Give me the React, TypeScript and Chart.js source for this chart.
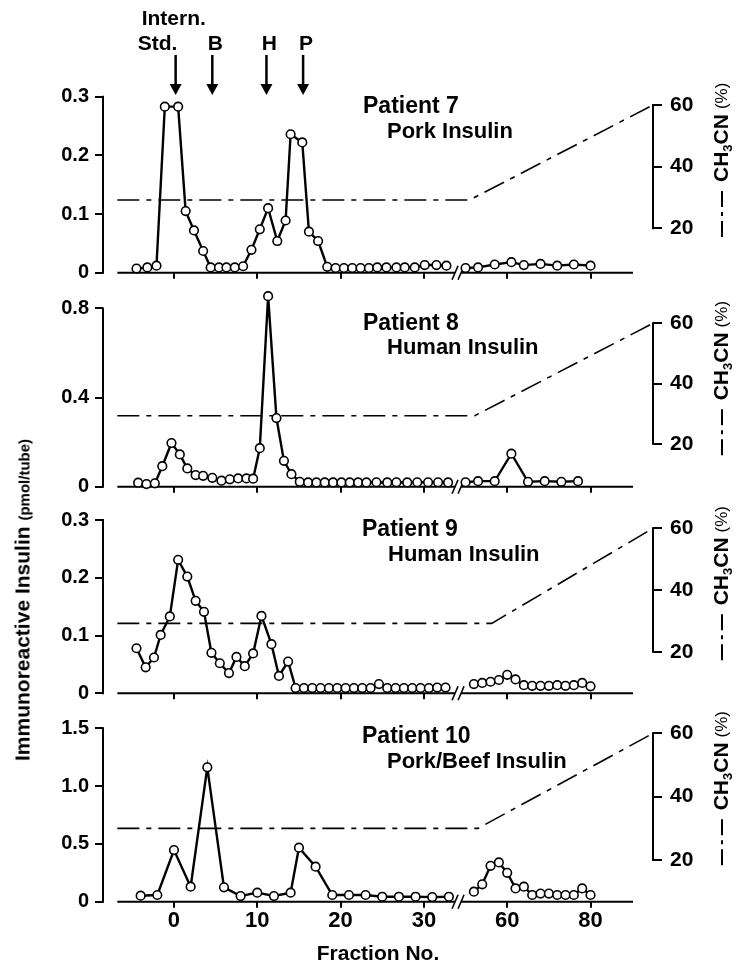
import React, { useEffect, useRef } from 'react';
import { Chart, registerables } from 'chart.js';
Chart.register(...registerables);

const FONT = "'Liberation Sans', Arial, Helvetica, sans-serif";

// ---------- shared axis data ----------
const xTickFractions = [0, 10, 20, 30, 60, 80];
const xTickLabels = ['0', '10', '20', '30', '60', '80'];
const markerFractions = [0.2, 4.6, 11.1, 15.5];
const markerLabels = [['Intern.', 'Std.'], ['B'], ['H'], ['P']];
const ch3cnTicks = [20, 40, 60];

// ---------- Patient 7 ----------
const p7Fractions = [-4.5, -3.2, -2.1, -1.1, 0.5, 1.4, 2.4, 3.5, 4.4, 5.4, 6.3, 7.3, 8.3, 9.3, 10.3, 11.3, 12.4, 13.4, 14.0, 15.4,
  16.2, 17.3, 18.4, 19.4, 20.4, 21.4, 22.4, 23.4, 24.4, 25.5, 26.7, 27.7, 28.9, 30.1, 31.5, 32.7,
  50, 53, 57, 61, 64, 68, 72, 76, 80];
const p7Insulin = [0.007, 0.009, 0.012, 0.283, 0.283, 0.105, 0.072, 0.037, 0.009, 0.009, 0.009, 0.009, 0.011, 0.039, 0.074, 0.11, 0.054, 0.089, 0.236, 0.222,
  0.07, 0.054, 0.01, 0.008, 0.008, 0.008, 0.008, 0.008, 0.009, 0.009, 0.009, 0.009, 0.009, 0.013, 0.013, 0.012,
  0.008, 0.009, 0.014, 0.018, 0.013, 0.015, 0.012, 0.014, 0.012];
const p7GradFractions = [-6.8, 51, 95];
const p7GradCH3CN = [29.2, 29.2, 60];
const p7Ticks = [0, 0.1, 0.2, 0.3];
const p7TickLabels = ['0', '0.1', '0.2', '0.3'];

// ---------- Patient 8 ----------
const p8Fractions = [-4.3, -3.3, -2.3, -1.4, -0.3, 0.7, 1.6, 2.6, 3.5, 4.6, 5.7, 6.7, 7.7, 8.7, 9.5, 10.3, 11.3, 12.3, 13.2, 14.1,
  15.1, 16.1, 17.1, 18.1, 19.1, 20.1, 21.1, 22.1, 23.1, 24.3, 25.6, 26.7, 28.0, 29.2, 30.5, 31.7, 32.9,
  50, 53, 57, 61, 65, 69, 73, 77];
const p8Insulin = [0.018, 0.012, 0.015, 0.092, 0.196, 0.145, 0.082, 0.052, 0.049, 0.04, 0.027, 0.033, 0.037, 0.037, 0.036, 0.173, 0.855, 0.308, 0.116, 0.056,
  0.022, 0.019, 0.019, 0.019, 0.019, 0.019, 0.019, 0.019, 0.019, 0.02, 0.019, 0.02, 0.019, 0.02, 0.02, 0.02, 0.019,
  0.02, 0.025, 0.025, 0.148, 0.022, 0.025, 0.022, 0.025];
const p8GradFractions = [-6.8, 52.2, 95];
const p8GradCH3CN = [29.3, 29.3, 60];
const p8Ticks = [0, 0.4, 0.8];
const p8TickLabels = ['0', '0.4', '0.8'];

// ---------- Patient 9 ----------
const p9Fractions = [-4.5, -3.4, -2.4, -1.6, -0.5, 0.5, 1.6, 2.6, 3.6, 4.5, 5.5, 6.6, 7.5, 8.5, 9.5, 10.5, 11.7, 12.6, 13.7, 14.6,
  15.6, 16.6, 17.6, 18.6, 19.6, 20.6, 21.6, 22.6, 23.6, 24.6, 25.6, 26.6, 27.6, 28.6, 29.6, 30.6, 31.6, 32.6,
  52, 54, 56, 58, 60, 62, 64, 66, 68, 70, 72, 74, 76, 78, 80];
const p9Insulin = [0.078, 0.045, 0.062, 0.101, 0.133, 0.231, 0.202, 0.16, 0.141, 0.07, 0.052, 0.035, 0.063, 0.047, 0.069, 0.134, 0.085, 0.03, 0.055, 0.009,
  0.009, 0.009, 0.009, 0.009, 0.009, 0.009, 0.009, 0.009, 0.009, 0.016, 0.009, 0.009, 0.009, 0.009, 0.009, 0.009, 0.01, 0.01,
  0.016, 0.018, 0.02, 0.023, 0.032, 0.024, 0.014, 0.013, 0.013, 0.013, 0.014, 0.013, 0.014, 0.018, 0.012];
const p9GradFractions = [-6.8, 56.3, 95];
const p9GradCH3CN = [29.2, 29.2, 60];
const p9Ticks = [0, 0.1, 0.2, 0.3];
const p9TickLabels = ['0', '0.1', '0.2', '0.3'];

// ---------- Patient 10 ----------
const p10Fractions = [-4, -2, 0, 2, 4, 6, 8, 10, 12, 14, 15, 17, 19, 21, 23, 25, 27, 29, 31, 33,
  52, 54, 56, 58, 60, 62, 64, 66, 68, 70, 72, 74, 76, 78, 80];
const p10Insulin = [0.052, 0.058, 0.447, 0.13, 1.162, 0.124, 0.049, 0.078, 0.049, 0.078, 0.467, 0.303, 0.058, 0.058, 0.058, 0.043, 0.043, 0.043, 0.04, 0.043,
  0.087, 0.15, 0.31, 0.34, 0.25, 0.115, 0.13, 0.058, 0.07, 0.07, 0.058, 0.058, 0.058, 0.115, 0.058];
const p10GradFractions = [-6.8, 53, 95];
const p10GradCH3CN = [30, 30, 60];
const p10Ticks = [0, 0.5, 1.0, 1.5];
const p10TickLabels = ['0', '0.5', '1.0', '1.5'];

// ---------- axis geometry (broken fraction axis: 60..80 drawn at half scale) ----------
const toPos = (f: number) => (f < 40 ? f : 40 + (f - 60) / 2);
const X_MIN = -8.52;
const X_MAX = 57.5;
const AXIS_START = -6.8;
const AXIS_END = 55.1;
const BREAK_POS = 34.1;

function seriesPoints(fr: number[], vals: number[]) {
  const pts: any[] = [];
  for (let i = 0; i < fr.length; i++) {
    if (i > 0 && fr[i - 1] < 40 && fr[i] >= 40) pts.push({ x: BREAK_POS, y: null });
    pts.push({ x: toPos(fr[i]), y: vals[i] });
  }
  return pts;
}
function gradPoints(fr: number[], vals: number[]) {
  return fr.map((f, i) => ({ x: toPos(f), y: vals[i] }));
}

const panels = [
  { name: 'Patient 7', sub: 'Pork Insulin', fr: p7Fractions, v: p7Insulin, gf: p7GradFractions, gv: p7GradCH3CN, ticks: p7Ticks, tickLabels: p7TickLabels,
    top: 0, height: 303, padTop: 96.7, xH: 30.3, yMax: 0.3, y2: [5.6, 62.69], t1: [363, 113], t2: [387, 138.3], arrows: true, showX: false },
  { name: 'Patient 8', sub: 'Human Insulin', fr: p8Fractions, v: p8Insulin, gf: p8GradFractions, gv: p8GradCH3CN, ticks: p8Ticks, tickLabels: p8TickLabels,
    top: 270, height: 247, padTop: 18.7, xH: 30.3, yMax: 0.88, y2: [5.72, 70.86], t1: [363, 330], t2: [387, 354], arrows: false, showX: false },
  { name: 'Patient 9', sub: 'Human Insulin', fr: p9Fractions, v: p9Insulin, gf: p9GradFractions, gv: p9GradCH3CN, ticks: p9Ticks, tickLabels: p9TickLabels,
    top: 490, height: 234, padTop: 30, xH: 30.7, yMax: 0.3, y2: [6.52, 62.69], t1: [362, 535.7], t2: [388, 560.7], arrows: false, showX: false },
  { name: 'Patient 10', sub: 'Pork/Beef Insulin', fr: p10Fractions, v: p10Insulin, gf: p10GradFractions, gv: p10GradCH3CN, ticks: p10Ticks, tickLabels: p10TickLabels,
    top: 695, height: 278, padTop: 33.3, xH: 71.3, yMax: 1.5, y2: [6.84, 61.58], t1: [362, 743.3], t2: [387, 768.3], arrows: false, showX: true },
];

function drawCH3CN(ctx: CanvasRenderingContext2D, cx: number, y60: number) {
  ctx.save();
  ctx.translate(cx, y60 + 77);
  ctx.rotate(-Math.PI / 2);
  ctx.fillStyle = '#000';
  ctx.strokeStyle = '#000';
  ctx.lineWidth = 2;
  ctx.setLineDash([16, 5, 4, 5]);
  ctx.beginPath();
  ctx.moveTo(-55, 0);
  ctx.lineTo(-9, 0);
  ctx.stroke();
  ctx.setLineDash([]);
  ctx.textBaseline = 'middle';
  ctx.textAlign = 'left';
  let x = 0;
  ctx.font = `bold 21px ${FONT}`;
  ctx.fillText('CH', x, 0);
  x += ctx.measureText('CH').width;
  ctx.font = `bold 13px ${FONT}`;
  ctx.fillText('3', x, 6);
  x += ctx.measureText('3').width;
  ctx.font = `bold 21px ${FONT}`;
  ctx.fillText('CN', x, 0);
  x += ctx.measureText('CN').width + 5;
  ctx.font = `17px ${FONT}`;
  ctx.fillText('(%)', x, 0);
  ctx.restore();
}

function Panel({ cfg }: { cfg: any }) {
  const ref = useRef<HTMLCanvasElement>(null);
  useEffect(() => {
    const decor = {
      id: 'decor',
      beforeDatasetsDraw(chart: any) {
        const { ctx, chartArea } = chart;
        const xs = chart.scales.x;
        const ys = chart.scales.y;
        const y2 = chart.scales.y2;
        const base = ys.getPixelForValue(0);
        const bx = xs.getPixelForValue(BREAK_POS);
        ctx.save();
        ctx.strokeStyle = '#000';
        ctx.lineWidth = 2;
        // broken x axis line
        ctx.beginPath();
        ctx.moveTo(xs.getPixelForValue(AXIS_START), base);
        ctx.lineTo(bx - 3, base);
        ctx.moveTo(bx + 3, base);
        ctx.lineTo(xs.getPixelForValue(AXIS_END), base);
        ctx.stroke();
        ctx.lineWidth = 1.6;
        ctx.beginPath();
        for (const dx of [-3, 3]) {
          ctx.moveTo(bx + dx - 3, base + 7);
          ctx.lineTo(bx + dx + 3, base - 7);
        }
        ctx.stroke();
        // left axis line (0 .. top tick)
        ctx.lineWidth = 2;
        ctx.beginPath();
        ctx.moveTo(chartArea.left, base + 1);
        ctx.lineTo(chartArea.left, ys.getPixelForValue(cfg.ticks[cfg.ticks.length - 1]) - 1);
        ctx.stroke();
        // right axis line (20 .. 60 %)
        ctx.beginPath();
        ctx.moveTo(chartArea.right, y2.getPixelForValue(20) + 1);
        ctx.lineTo(chartArea.right, y2.getPixelForValue(60) - 1);
        ctx.stroke();
        ctx.restore();
      },
      afterDraw(chart: any) {
        const { ctx } = chart;
        const xs = chart.scales.x;
        const y2 = chart.scales.y2;
        ctx.save();
        ctx.fillStyle = '#000';
        ctx.textAlign = 'left';
        ctx.textBaseline = 'alphabetic';
        ctx.font = `bold 23px ${FONT}`;
        ctx.fillText(cfg.name, cfg.t1[0], cfg.t1[1] - cfg.top);
        ctx.font = `bold 22px ${FONT}`;
        ctx.fillText(cfg.sub, cfg.t2[0], cfg.t2[1] - cfg.top);
        drawCH3CN(ctx, 722, y2.getPixelForValue(60));
        if (cfg.arrows) {
          ctx.strokeStyle = '#000';
          markerFractions.forEach((f, i) => {
            const ax = xs.getPixelForValue(toPos(f));
            ctx.lineWidth = 2.5;
            ctx.beginPath();
            ctx.moveTo(ax, 55);
            ctx.lineTo(ax, 86);
            ctx.stroke();
            ctx.beginPath();
            ctx.moveTo(ax - 6, 84);
            ctx.lineTo(ax + 6, 84);
            ctx.lineTo(ax, 95);
            ctx.closePath();
            ctx.fill();
            ctx.font = `bold 21px ${FONT}`;
            const labs = markerLabels[i];
            if (labs.length === 2) {
              ctx.textAlign = 'left';
              ctx.fillText(labs[0], ax - 34, 25);
              ctx.fillText(labs[1], ax - 38, 50);
            } else {
              ctx.textAlign = 'center';
              ctx.fillText(labs[0], ax + 3, 50);
            }
          });
        }
        ctx.restore();
      },
    };

    const tickFont = (size: number) => ({ family: FONT, size, weight: 'bold' as const });
    const chart = new Chart(ref.current as HTMLCanvasElement, {
      type: 'line',
      data: {
        datasets: [
          {
            data: seriesPoints(cfg.fr, cfg.v),
            xAxisID: 'x',
            yAxisID: 'y',
            borderColor: '#000',
            borderWidth: 2.4,
            pointRadius: 4.3,
            pointBackgroundColor: '#fff',
            pointBorderColor: '#000',
            pointBorderWidth: 1.6,
            tension: 0,
            clip: false,
            spanGaps: false,
          } as any,
          {
            data: gradPoints(cfg.gf, cfg.gv),
            xAxisID: 'x',
            yAxisID: 'y2',
            borderColor: '#000',
            borderWidth: 1.6,
            borderDash: [22, 7, 5, 7],
            pointRadius: 0,
            tension: 0,
            clip: false,
          } as any,
        ],
      },
      options: {
        responsive: false,
        animation: false,
        devicePixelRatio: 1,
        events: [],
        layout: { padding: { top: cfg.padTop, left: 0, right: 0, bottom: 0 } },
        plugins: { legend: { display: false }, tooltip: { enabled: false }, title: { display: false } },
        scales: {
          x: {
            type: 'linear',
            position: 'bottom',
            min: X_MIN,
            max: X_MAX,
            border: { display: false },
            grid: { display: true, drawOnChartArea: false, drawTicks: true, tickLength: 6, color: '#000', lineWidth: 2 },
            ticks: {
              display: cfg.showX,
              autoSkip: false,
              maxRotation: 0,
              padding: 0,
              color: '#000',
              font: tickFont(22),
              callback: (_v: any, i: number) => xTickLabels[i],
            },
            afterBuildTicks: (s: any) => {
              s.ticks = xTickFractions.map((f) => ({ value: toPos(f) }));
            },
            afterFit: (s: any) => {
              s.height = cfg.xH;
            },
            title: {
              display: cfg.showX,
              text: 'Fraction No.',
              color: '#000',
              font: { family: FONT, size: 21, weight: 'bold' },
              padding: { top: 0, bottom: 6.4 },
            },
          } as any,
          y: {
            type: 'linear',
            position: 'left',
            min: 0,
            max: cfg.yMax,
            border: { display: false },
            grid: { display: true, drawOnChartArea: false, drawTicks: true, tickLength: 8, color: '#000', lineWidth: 2 },
            ticks: {
              autoSkip: false,
              padding: 6,
              color: '#000',
              font: tickFont(20),
              callback: (_v: any, i: number) => cfg.tickLabels[i],
            },
            afterBuildTicks: (s: any) => {
              s.ticks = cfg.ticks.map((v: number) => ({ value: v }));
            },
            afterFit: (s: any) => {
              s.width = 103;
            },
          } as any,
          y2: {
            type: 'linear',
            position: 'right',
            min: cfg.y2[0],
            max: cfg.y2[1],
            border: { display: false },
            grid: { display: true, drawOnChartArea: false, drawTicks: true, tickLength: 9, color: '#000', lineWidth: 2 },
            ticks: {
              autoSkip: false,
              padding: 8,
              color: '#000',
              font: tickFont(21),
              callback: (v: any) => String(v),
            },
            afterBuildTicks: (s: any) => {
              s.ticks = ch3cnTicks.map((v) => ({ value: v }));
            },
            afterFit: (s: any) => {
              s.width = 90;
            },
          } as any,
        },
      },
      plugins: [decor],
    });
    return () => chart.destroy();
  }, []);
  return (
    <canvas
      ref={ref}
      width={743}
      height={cfg.height}
      style={{ position: 'absolute', left: 0, top: cfg.top, width: 743, height: cfg.height }}
    />
  );
}

export default function App() {
  return (
    <div style={{ position: 'absolute', left: 0, top: 0, width: 743, height: 973, background: '#fff', overflow: 'hidden' }}>
      {panels.map((p) => (
        <Panel key={p.name} cfg={p} />
      ))}
      <div
        style={{
          position: 'absolute',
          left: 22,
          top: 600,
          transform: 'translate(-50%, -50%) rotate(-90deg)',
          whiteSpace: 'nowrap',
          fontFamily: FONT,
          fontWeight: 'bold',
          fontSize: 21,
          lineHeight: 1,
          color: '#000',
        }}
      >
        Immunoreactive Insulin <span style={{ fontSize: 15 }}>(pmol/tube)</span>
      </div>
    </div>
  );
}
